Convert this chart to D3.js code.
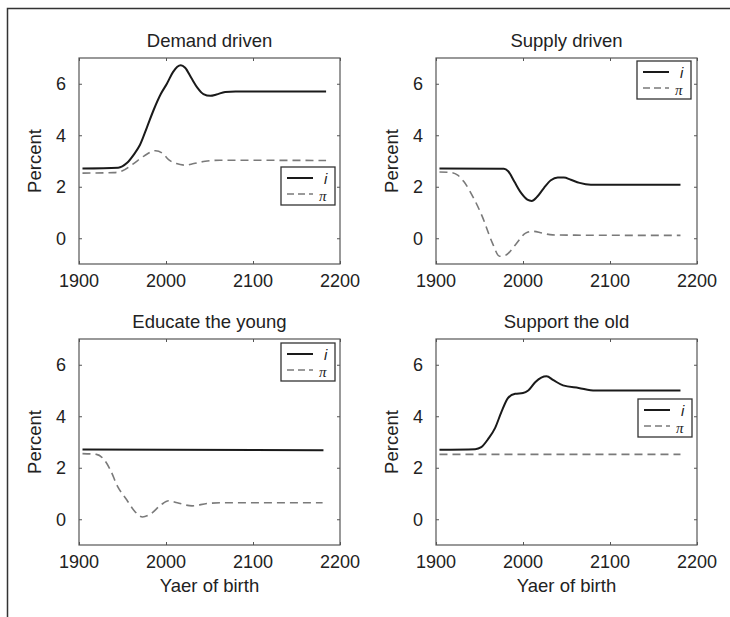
<!DOCTYPE html>
<html>
<head>
<meta charset="utf-8">
<script src="https://cdn.jsdelivr.net/npm/d3@7"></script>
<style>
  html, body { margin: 0; padding: 0; background: #fff; }
  svg { display: block; font-family: "Liberation Sans", Arial, sans-serif; }
</style>
</head>
<body>
<svg id="chart" width="730" height="617"></svg>
<script>
// ---- data ----
const xTicks = [1900, 2000, 2100, 2200];
const yTicks = [0, 2, 4, 6];
const titles = ["Demand driven", "Supply driven", "Educate the young", "Support the old"];
const legendLabels = ["i", "π"];

const demandI = [[1904,2.71],[1945,2.74],[1955,2.92],[1963,3.25],[1970,3.62],[1978,4.3],[1986,5.0],[1994,5.6],[2001,6.0],[2008,6.45],[2013,6.66],[2017,6.72],[2022,6.62],[2029,6.23],[2036,5.85],[2043,5.6],[2051,5.53],[2058,5.58],[2068,5.68],[2080,5.7],[2184,5.7]];
const demandPi = [[1904,2.53],[1940,2.55],[1950,2.62],[1962,2.88],[1975,3.2],[1988,3.4],[1996,3.3],[2003,3.05],[2012,2.9],[2022,2.84],[2032,2.9],[2045,2.99],[2062,3.03],[2184,3.02]];

const supplyI = [[1904,2.71],[1978,2.7],[1983,2.6],[1990,2.2],[1998,1.75],[2005,1.5],[2010,1.45],[2016,1.6],[2024,1.95],[2032,2.25],[2040,2.36],[2047,2.36],[2055,2.27],[2065,2.15],[2078,2.08],[2181,2.08]];
const supplyPi = [[1904,2.57],[1918,2.55],[1925,2.45],[1932,2.2],[1942,1.64],[1953,0.86],[1965,-0.2],[1973,-0.7],[1980,-0.66],[1992,-0.22],[2003,0.2],[2011,0.27],[2022,0.2],[2034,0.13],[2060,0.12],[2181,0.11]];

const educateI = [[1904,2.71],[2181,2.68]];
const educatePi = [[1904,2.55],[1920,2.52],[1928,2.35],[1936,1.92],[1944,1.3],[1955,0.75],[1963,0.35],[1973,0.09],[1982,0.2],[1994,0.55],[2003,0.72],[2013,0.64],[2030,0.52],[2047,0.61],[2062,0.64],[2180,0.64]];

const supportI = [[1904,2.7],[1945,2.72],[1952,2.8],[1960,3.12],[1968,3.55],[1975,4.15],[1983,4.72],[1991,4.87],[2000,4.9],[2006,5.0],[2014,5.32],[2021,5.5],[2027,5.55],[2035,5.4],[2046,5.2],[2064,5.1],[2083,5.0],[2181,5.0]];
const supportPi = [[1904,2.52],[2181,2.52]];

const seriesI = [demandI, supplyI, educateI, supportI];
const seriesPi = [demandPi, supplyPi, educatePi, supportPi];

// ---- layout ----
const plotW = 261, plotH = 206;
const colX = [79, 436];
const rowY = [58, 339];
const legendPos = [[202, 109], [201, 3], [202, 4], [202, 60]];
const legW = 54, legH = 38;

const svg = d3.select("#chart");

// outer frame (top and left)
svg.append("path").attr("d", "M7.5,617 L7.5,8.5 L730,8.5")
  .attr("fill", "none").attr("stroke", "#333").attr("stroke-width", 1.5);

const x = d3.scaleLinear().domain([1900, 2200]).range([0, plotW]);
const y = d3.scaleLinear().domain([-1, 7]).range([plotH, 0]);
const line = d3.line().x(d => x(d[0])).y(d => y(d[1])).curve(d3.curveMonotoneX);

titles.forEach((t, k) => {
  const col = k % 2, row = Math.floor(k / 2);
  const g = svg.append("g").attr("transform", `translate(${colX[col]},${rowY[row]})`);

  // ticks inward on all four sides
  const tl = 3;
  const axB = d3.axisBottom(x).tickValues(xTicks).tickSize(-tl).tickFormat("");
  const axT = d3.axisTop(x).tickValues(xTicks).tickSize(-tl).tickFormat("");
  const axL = d3.axisLeft(y).tickValues(yTicks).tickSize(-tl).tickFormat("");
  const axR = d3.axisRight(y).tickValues(yTicks).tickSize(-tl).tickFormat("");
  [[axB, `translate(0,${plotH})`], [axT, "translate(0,0)"], [axL, "translate(0,0)"], [axR, `translate(${plotW},0)`]]
    .forEach(([ax, tr]) => {
      const a = g.append("g").attr("transform", tr).call(ax);
      a.select(".domain").remove();
      a.selectAll("line").attr("stroke", "#555").attr("stroke-width", 1);
    });

  // tick labels
  g.selectAll(".xl").data(xTicks).enter().append("text")
    .attr("x", d => x(d)).attr("y", plotH + 23)
    .attr("text-anchor", "middle").attr("font-size", 18).attr("fill", "#222")
    .text(d => d);
  g.selectAll(".yl").data(yTicks).enter().append("text")
    .attr("x", -13).attr("y", d => y(d) + 6.5)
    .attr("text-anchor", "end").attr("font-size", 18).attr("fill", "#222")
    .text(d => d);

  // box
  g.append("rect").attr("x", 0).attr("y", 0).attr("width", plotW).attr("height", plotH)
    .attr("fill", "none").attr("stroke", "#555").attr("stroke-width", 1.2);

  // title
  g.append("text").attr("x", plotW / 2).attr("y", -11)
    .attr("text-anchor", "middle").attr("font-size", 18.5).attr("fill", "#222").text(t);

  // y label
  g.append("text").attr("transform", `translate(${-38},${plotH / 2}) rotate(-90)`)
    .attr("text-anchor", "middle").attr("font-size", 18.5).attr("fill", "#222").text("Percent");

  if (row === 1) {
    g.append("text").attr("x", plotW / 2).attr("y", plotH + 47)
      .attr("text-anchor", "middle").attr("font-size", 18.5).attr("fill", "#222").text("Yaer of birth");
  }

  // series
  g.append("path").datum(seriesPi[k]).attr("d", line)
    .attr("fill", "none").attr("stroke", "#7a7a7a").attr("stroke-width", 1.6)
    .attr("stroke-dasharray", "8,5");
  g.append("path").datum(seriesI[k]).attr("d", line)
    .attr("fill", "none").attr("stroke", "#1a1a1a").attr("stroke-width", 2);

  // legend
  const [lx, ly] = legendPos[k];
  const lg = g.append("g").attr("transform", `translate(${lx},${ly})`);
  lg.append("rect").attr("width", legW).attr("height", legH)
    .attr("fill", "#fff").attr("stroke", "#333").attr("stroke-width", 1.3);
  lg.append("line").attr("x1", 6).attr("x2", 32).attr("y1", 11).attr("y2", 11)
    .attr("stroke", "#1a1a1a").attr("stroke-width", 2);
  lg.append("line").attr("x1", 6).attr("x2", 32).attr("y1", 27).attr("y2", 27)
    .attr("stroke", "#7a7a7a").attr("stroke-width", 1.6).attr("stroke-dasharray", "7,4");
  lg.append("text").attr("x", 43).attr("y", 16.5).attr("font-size", 15)
    .attr("font-style", "italic").attr("fill", "#222").text(legendLabels[0]);
  lg.append("text").attr("x", 38).attr("y", 34).attr("font-size", 15)
    .attr("font-family", "'Liberation Serif', 'DejaVu Serif', serif")
    .attr("font-style", "italic").attr("fill", "#222").text(legendLabels[1]);
});
</script>
</body>
</html>
